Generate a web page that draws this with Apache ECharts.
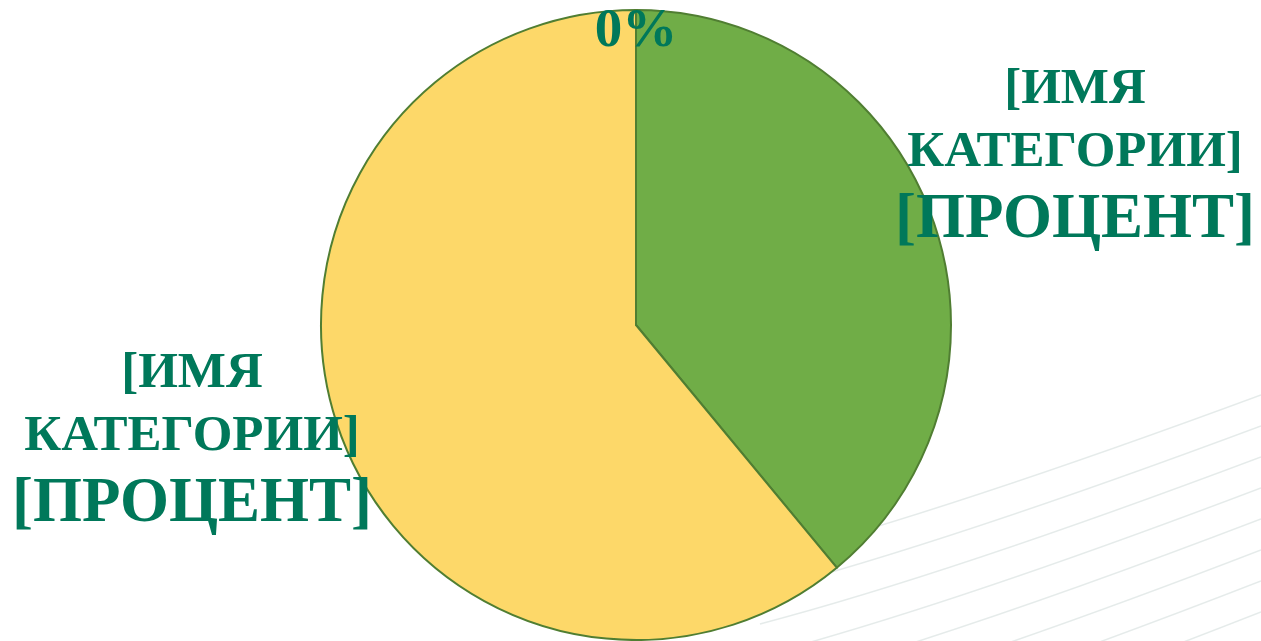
<!DOCTYPE html>
<html>
<head>
<meta charset="utf-8">
<script src="https://cdn.jsdelivr.net/npm/echarts@6/dist/echarts.min.js"></script>
<style>
html,body{margin:0;padding:0;background:#fff;}
#c{width:1261px;height:641px;}
</style>
</head>
<body>
<div id="c"></div>
<script>
const categories = ['[ИМЯ КАТЕГОРИИ] A', '[ИМЯ КАТЕГОРИИ] B', 'C'];
const values = [39, 61, 0];
const nameLabels = ['[ИМЯ\nКАТЕГОРИИ]', '[ИМЯ\nКАТЕГОРИИ]', ''];
const percentLabels = ['[ПРОЦЕНТ]', '[ПРОЦЕНТ]', '0%'];
const colors = ['#70AD47', '#FDD869', '#A5A5A5'];

const chart = echarts.init(document.getElementById('c'));

// faint decorative background lines (bottom-right)
const bgLines = [];
for (let i = 0; i < 9; i++) {
  const y0 = 520 + i * 32, y1 = 395 + i * 31;
  bgLines.push({
    type: 'bezierCurve', silent: true, z: -10,
    shape: { x1: 760, y1: y0 + 40, x2: 1261, y2: y1, cpx1: 950, cpy1: y0 - 10 },
    style: { stroke: 'rgba(170,190,185,0.3)', lineWidth: 1.5, fill: null }
  });
}

const labelPos = [
  { x: 1075, y: 158 },
  { x: 192, y: 442 },
  { x: 636, y: 32 }
];

chart.setOption({
  animation: false,
  backgroundColor: '#ffffff',
  graphic: bgLines,
  series: [{
    type: 'pie',
    center: [636, 325],
    radius: 315,
    startAngle: 90,
    clockwise: true,
    avoidLabelOverlap: false,
    itemStyle: {
      borderColor: '#507E32', borderWidth: 2
    },
    emphasis: { disabled: true },
    label: {
      show: true,
      position: 'outside',
      color: '#00785A',
      fontFamily: '"Liberation Serif", "Times New Roman", serif',
      fontWeight: 'bold',
      formatter: function (p) {
        const i = p.dataIndex;
        if (nameLabels[i]) {
          return nameLabels[i].split('\n').map(s => '{n|' + s + '}').join('\n') + '\n{p|' + percentLabels[i] + '}';
        }
        return '{z|' + percentLabels[i] + '}';
      },
      rich: {
        n: { fontSize: 51, lineHeight: 63, color: '#00785A', fontWeight: 'bold', fontFamily: '"Liberation Serif", serif' },
        p: { fontSize: 63, lineHeight: 74, color: '#00785A', fontWeight: 'bold', fontFamily: '"Liberation Serif", serif' },
        z: { fontSize: 55, lineHeight: 60, color: '#00785A', fontWeight: 'bold', fontFamily: '"Liberation Serif", serif' }
      }
    },
    labelLine: { show: false },
    labelLayout: function (params) {
      const pos = labelPos[params.dataIndex];
      return { x: pos.x, y: pos.y, align: 'center', verticalAlign: 'middle' };
    },
    data: categories.map((c, i) => ({ name: c, value: values[i], itemStyle: { color: colors[i] } }))
  }]
});
</script>
</body>
</html>
